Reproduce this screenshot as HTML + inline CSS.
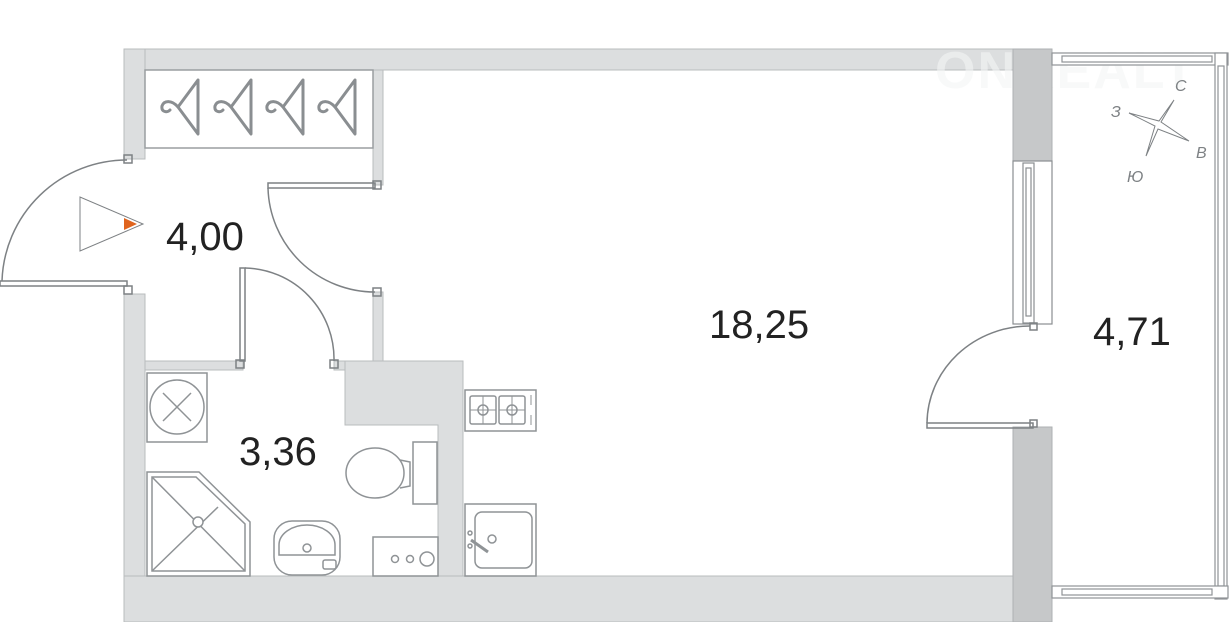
<!DOCTYPE html>
<html><head><meta charset="utf-8"><style>
html,body{margin:0;padding:0;background:#fff;width:1229px;height:622px;overflow:hidden}
svg{display:block}
text{font-family:"Liberation Sans",sans-serif}
</style></head><body>
<svg width="1229" height="622" viewBox="0 0 1229 622" xmlns="http://www.w3.org/2000/svg">
<g fill="#dcdedf" stroke="#b9bcbe" stroke-width="1">
 <rect x="124" y="49" width="890" height="21"/>
 <rect x="124" y="49" width="21" height="110"/>
 <rect x="124" y="294" width="21" height="328"/>
 <rect x="124" y="576" width="890" height="46"/>
 <rect x="373" y="70" width="10" height="115"/>
 <rect x="373" y="292" width="10" height="70"/>
 <rect x="145" y="361" width="98" height="9"/>
 <rect x="334" y="361" width="129" height="9"/>
 <path d="M345 361 H463 V576 H438 V425 H345 Z"/>
</g>
<!-- watermark -->
<text x="935" y="88" font-size="52" font-weight="bold" fill="#f4f5f5" fill-opacity="0.6" letter-spacing="2">ONREALT</text>
<g fill="#c6c8c9" stroke="#aeb1b3">
 <rect x="1013" y="49" width="39" height="114"/>
 <rect x="1013" y="427" width="39" height="195"/>
</g>
<g fill="none" stroke="#7d8184" stroke-width="1.5">
 <rect x="145" y="70" width="228" height="78" stroke="#9a9ea1"/>
 <g stroke="#8a8e91" stroke-width="3" stroke-linecap="round" stroke-linejoin="round">
  <path d="M198 80 L178 107 L198 134 Z M178 107 C172 100 164 100 162 106 C161 112 167 113 170 110"/>
  <path d="M251 80 L231 107 L251 134 Z M231 107 C225 100 217 100 215 106 C214 112 220 113 223 110"/>
  <path d="M303 80 L283 107 L303 134 Z M283 107 C277 100 269 100 267 106 C266 112 272 113 275 110"/>
  <path d="M355 80 L335 107 L355 134 Z M335 107 C329 100 321 100 319 106 C318 112 324 113 327 110"/>
 </g>
 <rect x="0" y="281" width="127" height="5"/>
 <path d="M2 281 A125 125 0 0 1 127 160"/>
 <rect x="124" y="155" width="8" height="8"/>
 <rect x="124" y="286" width="8" height="8"/>
 <rect x="268" y="183" width="107" height="5"/>
 <path d="M268 188 A107 107 0 0 0 375 292"/>
 <rect x="373" y="181" width="8" height="8"/>
 <rect x="373" y="288" width="8" height="8"/>
 <rect x="240" y="268" width="5" height="93"/>
 <path d="M245 268 A91 91 0 0 1 334 361"/>
 <rect x="236" y="360" width="8" height="8"/>
 <rect x="330" y="360" width="8" height="8"/>
 <path d="M80 197 L80 251 L143 224 Z" stroke-width="1"/>
</g>
<path d="M124 218 L137 224 L124 230 Z" fill="#e0641e"/>
<g fill="none" stroke="#8f9396" stroke-width="1.5">
 <rect x="147" y="373" width="60" height="69"/>
 <circle cx="177" cy="407" r="27"/>
 <path d="M163 393 L191 421 M191 393 L163 421"/>
 <path d="M147 472 H199 L250 522 V576 H147 Z"/>
 <path d="M152 477 H196 L245 524 V571 H152 Z"/>
 <path d="M152 477 L245 571 M152 571 L218 507"/>
 <circle cx="198" cy="522" r="5" fill="#fff"/>
 <rect x="274" y="521" width="66" height="54" rx="18"/>
 <path d="M279 555 V545 A28 20 0 0 1 335 545 V555 Z"/>
 <circle cx="307" cy="548" r="4"/>
 <rect x="323" y="560" width="13" height="9" rx="2"/>
 <rect x="413" y="442" width="24" height="62" fill="#fff"/>
 <ellipse cx="375" cy="473" rx="29" ry="25"/>
 <path d="M400 460 L410 462 V486 L400 488"/>
 <rect x="373" y="537" width="65" height="39" fill="#fff"/>
 <circle cx="395" cy="559" r="3.5"/><circle cx="410" cy="559" r="3.5"/><circle cx="427" cy="559" r="7"/>
 <rect x="465" y="390" width="71" height="41"/>
 <rect x="470" y="396" width="26" height="28" rx="2"/>
 <rect x="499" y="396" width="26" height="28" rx="2"/>
 <circle cx="483" cy="410" r="5"/><circle cx="512" cy="410" r="5"/>
 <path d="M470 410 H496 M483 396 V424 M499 410 H525 M512 396 V424" stroke-width="1"/>
 <path d="M531 395 V405 M531 415 V425" stroke-width="1"/>
 <rect x="465" y="504" width="71" height="72"/>
 <rect x="475" y="512" width="57" height="56" rx="7"/>
 <circle cx="492" cy="539" r="4"/>
 <path d="M471 540 L488 552" stroke-width="3"/>
 <circle cx="470" cy="533" r="2"/><circle cx="470" cy="546" r="2"/>
</g>
<g fill="#fff" stroke="#8a8e91" stroke-width="1.2">
 <rect x="1013" y="161" width="39" height="163"/>
 <rect x="1023" y="163" width="11" height="160"/>
 <rect x="1026" y="168" width="5" height="148"/>
</g>
<g fill="none" stroke="#7d8184" stroke-width="1.5">
 <rect x="927" y="423" width="106" height="5"/>
 <path d="M927 423 A103 98 0 0 1 1030 326"/>
 <rect x="1030" y="323" width="7" height="7"/>
 <rect x="1030" y="420" width="7" height="7"/>
</g>
<g fill="#fff" stroke="#8f9396" stroke-width="1.2">
 <rect x="1052" y="53" width="176" height="12"/>
 <rect x="1062" y="56" width="150" height="6"/>
 <rect x="1215" y="53" width="12" height="546"/>
 <rect x="1218" y="66" width="6" height="520"/>
 <rect x="1052" y="586" width="176" height="12"/>
 <rect x="1062" y="589" width="150" height="6"/>
</g>
<g fill="none" stroke="#7d8184" stroke-width="1">
 <path d="M1174 100 L1161 122 L1189 141 L1158 129 L1146 156 L1155 126 L1129 113 L1159 121 Z"/>
</g>
<g font-size="16" fill="#7d8184" font-style="italic">
 <text x="1175" y="91">С</text>
 <text x="1111" y="117">З</text>
 <text x="1196" y="158">В</text>
 <text x="1127" y="182">Ю</text>
</g>
<g font-size="40" fill="#222">
 <text x="166" y="250">4,00</text>
 <text x="239" y="465">3,36</text>
 <text x="709" y="338">18,25</text>
 <text x="1093" y="345">4,71</text>
</g>
</svg>
</body></html>
